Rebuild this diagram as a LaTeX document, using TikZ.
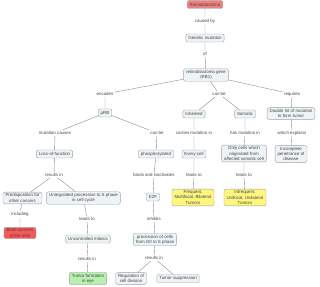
\documentclass[tikz,border=0pt]{standalone}
\usepackage{fontspec}
\setmainfont{Liberation Sans}
\usetikzlibrary{positioning}
\definecolor{boxfill}{HTML}{EEF4F6}
\definecolor{boxline}{HTML}{9AA3A8}
\definecolor{linkcol}{HTML}{8C8C8C}
\definecolor{textcol}{HTML}{444444}
\newcommand{\mapfont}{\fontsize{4.4}{5.2}\selectfont}

\begin{document}
\begin{tikzpicture}[x=1pt,y=-1pt,
  box/.style={draw=boxline,fill=boxfill,rounded corners=2pt,inner xsep=2.5pt,inner ysep=1.6pt,minimum height=8pt,align=center,font=\mapfont,text=textcol,line width=0.4pt},
  lbl/.style={inner sep=1.2pt,align=center,font=\mapfont,text=textcol},
  link/.style={draw=linkcol,line width=0.4pt}
]
\useasboundingbox (0,0) rectangle (320,286);

% top of the map
\node[box,fill={rgb,255:red,240;green,128;blue,128}] (retino) at (205,4.5) {Retinoblastoma};
\node[lbl] (causedby) at (205,21) {caused by};
\node[box] (genmut) at (205,38) {Genetic mutation};
\node[lbl] (of) at (205,54) {of};
\node[box] (rbgene) at (206,75) {retinoblastoma gene\\(RB1)};

\node[lbl] (encodes) at (105,94) {encodes};
\node[lbl] (canbe) at (219,94) {can be};
\node[lbl] (requires) at (292,94) {requires};

% second row
\node[box] (prb) at (105,113) {pRB};
\node[box] (inherited) at (194,114) {Inherited};
\node[box] (somatic) at (245,114) {Somatic};
\node[box] (doublehit) at (291,113.5) {Double hit of mutation\\to form tumor};

\node[lbl] (mutcauses) at (55,133) {mutation causes};
\node[lbl] (canbetwo) at (157,133) {can be};
\node[lbl] (carries) at (194,133) {carries mutation in};
\node[lbl] (hasmut) at (245,133) {has mutation in};
\node[lbl] (explains) at (292,133) {which explains};

% third row
\node[box] (loss) at (54.5,154) {Loss-of-function};
\node[box] (phospho) at (156,154) {phosphorylated};
\node[box] (everycell) at (194,154) {Every cell};
\node[box] (onlycells) at (244,153.5) {Only cells which\\originated from\\affected somatic cell};
\node[box] (incomplete) at (291,154) {Incomplete\\penetrance of\\disease};

\node[lbl] (resultsa) at (54,175) {results in};
\node[lbl] (binds) at (154,175) {binds and inactivates};
\node[lbl] (leadsa) at (194,175) {leads to};
\node[lbl] (leadsb) at (244,175) {leads to};

% fourth row
\node[box] (predispo) at (22.5,198) {Predisposition for\\other cancers};
\node[box] (unreg) at (83.5,198) {Unregulated procession to S phase\\in cell cycle};
\node[box] (etwof) at (153,197) {E2F};
\node[box,fill={rgb,255:red,255;green,246;blue,128}] (frequent) at (193,197.5) {Frequent,\\Multifocal, Bilateral\\Tumors};
\node[box,fill={rgb,255:red,255;green,246;blue,128}] (infrequent) at (245,197.5) {Infrequent,\\Unifocal, Unilateral\\Tumors};

\node[lbl] (including) at (20,214) {including};
\node[lbl] (leadsc) at (87,219) {leads to};
\node[lbl] (inhibits) at (154,219) {inhibits};

% fifth row
\node[box,fill={rgb,255:red,250;green,88;blue,88}] (bone) at (20,233) {Bone cancers\\of the orbit};
\node[box] (mitosis) at (88,239) {Uncontrolled mitosis};
\node[box] (procession) at (155,239.5) {procession of cells\\from G0 to S phase};

\node[lbl] (resultsb) at (87,259) {results in};
\node[lbl] (resultsc) at (154,258) {results in};

% bottom row
\node[box,fill={rgb,255:red,184;green,240;blue,176}] (tumoreye) at (88,278.5) {Tumor formation\\in eye};
\node[box] (regulation) at (131,278.5) {Regulation of\\cell division};
\node[box] (suppression) at (178,278.5) {Tumor suppression};

% links
\draw[link] (retino) -- (causedby) -- (genmut) -- (of) -- (rbgene);
\draw[link] (rbgene) -- (encodes) -- (prb);
\draw[link] (rbgene) -- (canbe);
\draw[link] (canbe) -- (inherited);
\draw[link] (canbe) -- (somatic);
\draw[link] (rbgene) -- (requires) -- (doublehit);
\draw[link] (prb) -- (mutcauses) -- (loss);
\draw[link] (prb) -- (canbetwo) -- (phospho);
\draw[link] (inherited) -- (carries) -- (everycell) -- (leadsa) -- (frequent);
\draw[link] (somatic) -- (hasmut) -- (onlycells) -- (leadsb) -- (infrequent);
\draw[link] (doublehit) -- (explains) -- (incomplete);
\draw[link] (loss) -- (resultsa);
\draw[link] (resultsa) -- (predispo);
\draw[link] (resultsa) -- (unreg);
\draw[link] (predispo) -- (including) -- (bone);
\draw[link] (unreg) -- (leadsc) -- (mitosis) -- (resultsb) -- (tumoreye);
\draw[link] (phospho) -- (binds) -- (etwof) -- (inhibits) -- (procession) -- (resultsc);
\draw[link] (resultsc) -- (regulation);
\draw[link] (resultsc) -- (suppression);
\end{tikzpicture}
\end{document}
